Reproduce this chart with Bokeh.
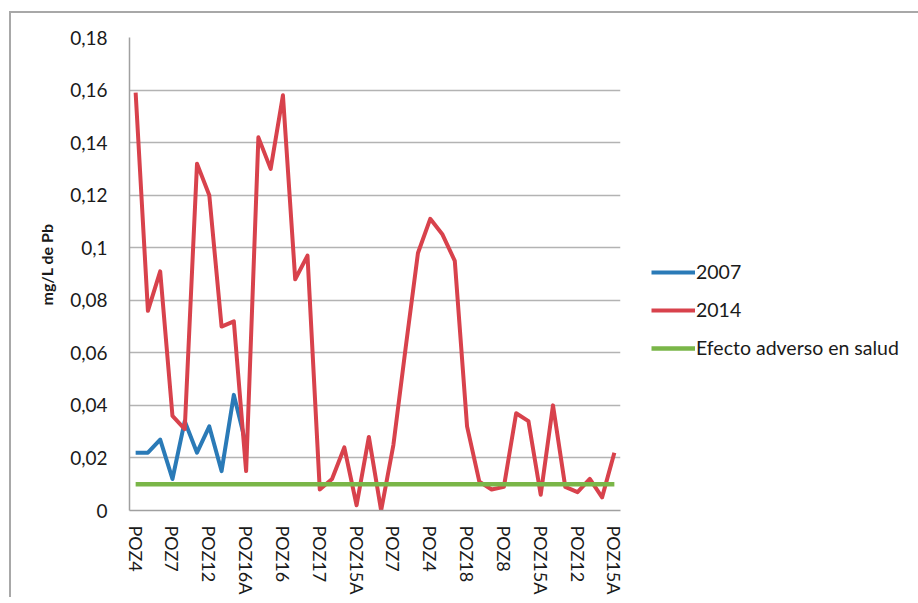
from bokeh.plotting import figure
from bokeh.models import Range1d, FixedTicker, Legend, LegendItem, Title
from bokeh.embed import file_html
from bokeh.resources import INLINE

# ---- data ----
x_tick_positions = [0, 3, 6, 9, 12, 15, 18, 21, 24, 27, 30, 33, 36, 39]
x_tick_labels = ["POZ4", "POZ7", "POZ12", "POZ16A", "POZ16", "POZ17", "POZ15A",
                 "POZ7", "POZ4", "POZ18", "POZ8", "POZ15A", "POZ12", "POZ15A"]

y_ticks = [0, 0.02, 0.04, 0.06, 0.08, 0.1, 0.12, 0.14, 0.16, 0.18]
y_tick_labels = ["0", "0,02", "0,04", "0,06", "0,08", "0,1", "0,12", "0,14", "0,16", "0,18"]

values_2014 = [0.159, 0.076, 0.091, 0.036, 0.031, 0.132, 0.120, 0.070, 0.072, 0.015,
               0.142, 0.130, 0.158, 0.088, 0.097, 0.008, 0.012, 0.024, 0.002, 0.028,
               0.000, 0.025, 0.062, 0.098, 0.111, 0.105, 0.095, 0.032, 0.011, 0.008,
               0.009, 0.037, 0.034, 0.006, 0.040, 0.009, 0.007, 0.012, 0.005, 0.022]
values_2007 = [0.022, 0.022, 0.027, 0.012, 0.034, 0.022, 0.032, 0.015, 0.044, 0.025]
limit_value = 0.01

n_cat = len(values_2014)
x_2014 = list(range(n_cat))
x_2007 = list(range(len(values_2007)))
limit_values = [limit_value] * n_cat

FONT = "Lato"
TEXT = "#1a1a1a"

p = figure(frame_width=491, frame_height=473, output_backend="svg", toolbar_location=None,
           x_range=Range1d(-0.5, n_cat - 0.5), y_range=Range1d(0, 0.18),
           min_border_left=118, min_border_top=24, min_border_right=10,
           min_border_bottom=60)
p.styles = {"margin-left": "9px", "margin-top": "11px",
            "border-left": "2px solid #a8a8a8", "border-top": "2px solid #a8a8a8"}
p.outline_line_color = None
p.background_fill_color = "white"
p.border_fill_color = "white"

# axes
p.xaxis.ticker = FixedTicker(ticks=x_tick_positions)
p.xaxis.major_label_overrides = dict(zip(x_tick_positions, x_tick_labels))
p.xaxis.major_label_orientation = "vertical"
p.yaxis.ticker = FixedTicker(ticks=y_ticks)
p.yaxis.major_label_overrides = dict(zip(y_ticks, y_tick_labels))
for ax in (p.xaxis, p.yaxis):
    ax.major_tick_line_color = None
    ax.minor_tick_line_color = None
    ax.axis_line_color = "#a0a0a0"
    ax.axis_line_width = 1.5
    ax.major_label_text_font = FONT
    ax.major_label_text_color = TEXT
p.xaxis.major_label_text_font_size = "18px"
p.yaxis.major_label_text_font_size = "19px"
p.xaxis.major_label_standoff = 9
p.yaxis.major_label_standoff = 16
# blank spacer label to push the title a little further left
p.yaxis.axis_label = " "
p.yaxis.axis_label_text_font_size = "8px"
p.yaxis.axis_label_standoff = 0

ytitle = Title(text="mg/L de Pb", align="left", offset=205, standoff=0,
               text_font=FONT, text_font_style="bold", text_font_size="16px",
               text_color=TEXT)
p.add_layout(ytitle, "left")

p.xgrid.grid_line_color = None
p.ygrid.ticker = FixedTicker(ticks=y_ticks)
p.ygrid.grid_line_color = "#b3b3b3"
p.ygrid.grid_line_width = 1.3

# series
r07 = p.line(x_2007, values_2007, line_color="#2a7ab7", line_width=4, line_join="round")
r14 = p.line(x_2014, values_2014, line_color="#d8424c", line_width=4, line_join="round")
rlim = p.line(x_2014, limit_values, line_color="#7ab648", line_width=4.5)

legend = Legend(items=[LegendItem(label="2007", renderers=[r07]),
                       LegendItem(label="2014", renderers=[r14]),
                       LegendItem(label="Efecto adverso en salud", renderers=[rlim])],
                location=(31, 151))
legend.background_fill_alpha = 0
legend.border_line_color = None
legend.padding = 0
legend.margin = 0
legend.spacing = 15
legend.glyph_width = 44
legend.glyph_height = 20
legend.label_height = 20
legend.label_standoff = 1
legend.label_text_font = FONT
legend.label_text_font_size = "19.5px"
legend.label_text_color = TEXT
p.add_layout(legend, "right")

open("out.html", "w").write(file_html(p, INLINE))
